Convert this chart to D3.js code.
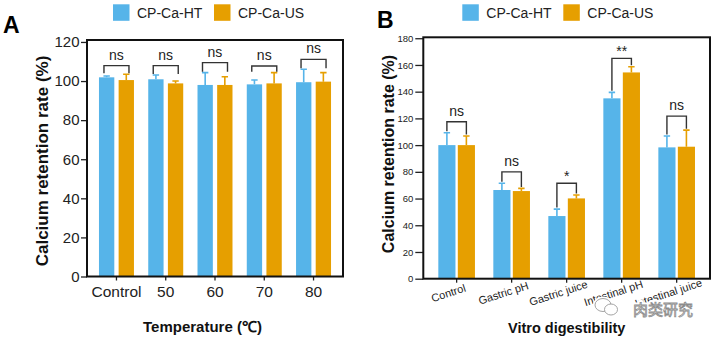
<!DOCTYPE html>
<html>
<head>
<meta charset="utf-8">
<script src="https://cdn.jsdelivr.net/npm/d3@7"></script>
<style>
  body { margin: 0; background: #fff; }
  svg { display: block; font-family: Arial, "Liberation Sans", sans-serif; }
</style>
</head>
<body>
<script>
var svgWidth = 717;
var svgHeight = 338;

var seriesNames = ["CP-Ca-HT", "CP-Ca-US"];
var seriesColors = ["#56B4E9", "#E69F00"];

// Temperature series (panel A)
var tempGroups = ["Control", "50", "60", "70", "80"];
var tempHT = [101.9, 100.9, 98.0, 98.3, 99.4];
var tempHTErr = [0.7, 2.2, 6.3, 2.2, 6.6];
var tempUS = [100.5, 98.8, 98.0, 98.8, 99.7];
var tempUSErr = [3.0, 1.2, 4.2, 5.5, 4.6];
var tempSig = ["ns", "ns", "ns", "ns", "ns"];
var tempBracket = [107.9, 107.9, 109.4, 107.7, 111.1];
var tempTicks = [0, 20, 40, 60, 80, 100, 120];

// In vitro digestion series (panel B)
var digestGroups = ["Control", "Gastric pH", "Gastric juice", "Intestinal pH", "Intestinal juice"];
var digestHT = [100.0, 66.4, 46.9, 135.0, 98.3];
var digestHTErr = [9.2, 5.0, 5.2, 4.5, 8.5];
var digestUS = [100.0, 65.6, 60.1, 154.4, 98.8];
var digestUSErr = [6.8, 2.0, 2.5, 4.2, 12.4];
var digestSig = ["ns", "ns", "*", "**", "ns"];
var digestBracket = [117.5, 80.0, 71.4, 164.9, 121.7];
var digestTicks = [0, 20, 40, 60, 80, 100, 120, 140, 160, 180];

var svg = d3.select("body")
  .append("svg")
  .attr("width", svgWidth)
  .attr("height", svgHeight);

function drawPanel(cfg) {
  var g = svg.append("g");

  var x = d3.scaleBand()
    .domain(cfg.groups)
    .range([cfg.left, cfg.right])
    .paddingInner(cfg.padInner)
    .paddingOuter(cfg.padOuter);

  var xSub = d3.scaleBand()
    .domain([0, 1])
    .range([0, x.bandwidth()])
    .paddingInner(cfg.barGap);

  var y = d3.scaleLinear()
    .domain([0, cfg.yMax])
    .range([cfg.bottom, cfg.top]);

  var rows = cfg.groups.map(function(name, i) {
    return {
      name: name,
      sig: cfg.sig[i],
      bracket: cfg.bracket[i],
      bars: [
        { s: 0, v: cfg.ht[i], e: cfg.htErr[i] },
        { s: 1, v: cfg.us[i], e: cfg.usErr[i] }
      ]
    };
  });

  // bars
  var groupG = g.selectAll("g.group")
    .data(rows)
    .enter()
    .append("g")
    .attr("class", "group")
    .attr("transform", d => `translate(${x(d.name)},0)`);

  groupG.selectAll("rect")
    .data(d => d.bars)
    .enter()
    .append("rect")
    .attr("x", d => xSub(d.s))
    .attr("y", d => y(d.v))
    .attr("width", xSub.bandwidth())
    .attr("height", d => y(0) - y(d.v))
    .attr("fill", d => seriesColors[d.s]);

  // upper error bars with caps
  groupG.selectAll("path.err")
    .data(d => d.bars)
    .enter()
    .append("path")
    .attr("class", "err")
    .attr("d", function(d) {
      var cx = xSub(d.s) + xSub.bandwidth() / 2;
      var yt = y(d.v + d.e);
      return `M${cx},${y(d.v)}V${yt}M${cx - 3.2},${yt}H${cx + 3.2}`;
    })
    .attr("fill", "none")
    .attr("stroke", d => seriesColors[d.s])
    .attr("stroke-width", 1.6);

  // significance brackets
  groupG.append("path")
    .attr("d", function(d) {
      var top = y(d.bracket);
      var xl, xr, yl, yr;
      if (cfg.sharedLegs) {
        var c = x.bandwidth() / 2;
        xl = c - cfg.bracketHalf;
        xr = c + cfg.bracketHalf;
        var m = d3.max(d.bars, b => b.v + b.e);
        yl = yr = y(m) - 1;
      } else {
        xl = xSub(0) + xSub.bandwidth() / 2;
        xr = xSub(1) + xSub.bandwidth() / 2;
        yl = y(d.bars[0].v + d.bars[0].e) - 1.5;
        yr = y(d.bars[1].v + d.bars[1].e) - 1.5;
      }
      return `M${xl},${yl}V${top}H${xr}V${yr}`;
    })
    .attr("fill", "none")
    .attr("stroke", "#333")
    .attr("stroke-width", 1.4);

  groupG.append("text")
    .attr("x", x.bandwidth() / 2)
    .attr("y", d => y(d.bracket) - (d.sig === "ns" ? 6 : 2.5))
    .attr("text-anchor", "middle")
    .attr("font-size", "14px")
    .attr("fill", "#222")
    .text(d => d.sig);

  // y axis
  var yAxis = g.append("g")
    .attr("transform", `translate(${cfg.left},0)`)
    .call(d3.axisLeft(y)
      .tickValues(cfg.ticks)
      .tickSize(cfg.tickLen)
      .tickSizeOuter(0)
      .tickPadding(cfg.tickPad));
  yAxis.select(".domain").remove();
  yAxis.selectAll("line").attr("stroke", "#222").attr("stroke-width", 1.3);
  yAxis.selectAll("text")
    .attr("fill", "#222")
    .style("font-size", cfg.tickFont)
    .style("font-family", "Arial, 'Liberation Sans', sans-serif");

  // x axis
  var xAxis = g.append("g")
    .attr("transform", `translate(0,${cfg.bottom})`)
    .call(d3.axisBottom(x)
      .tickSize(4)
      .tickSizeOuter(0)
      .tickPadding(5)
      .tickFormat(cfg.rotateLabels ? "" : null));
  xAxis.select(".domain").remove();
  xAxis.selectAll("line").attr("stroke", "#222").attr("stroke-width", 1.3);
  xAxis.selectAll("text")
    .attr("fill", "#222")
    .style("font-size", cfg.xTickFont)
    .style("font-family", "Arial, 'Liberation Sans', sans-serif");

  if (cfg.rotateLabels) {
    g.selectAll("text.xlab")
      .data(cfg.groups)
      .enter()
      .append("text")
      .attr("class", "xlab")
      .attr("transform", d => `translate(${x(d) + x.bandwidth() / 2 - 7},${cfg.bottom + 18}) rotate(-18)`)
      .attr("text-anchor", "middle")
      .attr("font-size", cfg.xTickFont)
      .attr("fill", "#222")
      .text(d => d);
  }

  // frame
  g.append("rect")
    .attr("x", cfg.left)
    .attr("y", cfg.top)
    .attr("width", cfg.right - cfg.left)
    .attr("height", cfg.bottom - cfg.top)
    .attr("fill", "none")
    .attr("stroke", "#111")
    .attr("stroke-width", 2);

  // axis titles
  g.append("text")
    .attr("transform", `translate(${cfg.yTitleX},${cfg.yTitleY}) rotate(-90)`)
    .attr("text-anchor", "middle")
    .attr("font-size", cfg.yTitleFont)
    .attr("font-weight", "bold")
    .attr("fill", "#111")
    .text("Calcium retention rate (%)");

  g.append("text")
    .attr("x", cfg.xTitleX)
    .attr("y", cfg.xTitleY)
    .attr("text-anchor", "middle")
    .attr("font-size", cfg.xTitleFont)
    .attr("font-weight", "bold")
    .attr("fill", "#111")
    .text(cfg.xTitle);

  // panel letter
  g.append("text")
    .attr("x", cfg.letterX)
    .attr("y", cfg.letterY)
    .attr("font-size", "23px")
    .attr("font-weight", "bold")
    .attr("fill", "#000")
    .text(cfg.letter);

  // legend
  var legend = g.selectAll("g.legend")
    .data(seriesNames)
    .enter()
    .append("g")
    .attr("class", "legend")
    .attr("transform", (d, i) => `translate(${cfg.legendX + i * 101},4.3)`);

  legend.append("rect")
    .attr("width", 16.5)
    .attr("height", 16.5)
    .attr("fill", (d, i) => seriesColors[i]);

  legend.append("text")
    .attr("x", 24)
    .attr("y", 14)
    .attr("font-size", "14px")
    .attr("fill", "#222")
    .text(d => d);
}

drawPanel({
  letter: "A", letterX: 3, letterY: 33,
  groups: tempGroups, ht: tempHT, htErr: tempHTErr, us: tempUS, usErr: tempUSErr,
  sig: tempSig, bracket: tempBracket, ticks: tempTicks, yMax: 121,
  left: 87, right: 343, top: 40, bottom: 276.5,
  padInner: 0.29, padOuter: 0.243, barGap: 0.22,
  sharedLegs: true, bracketHalf: 12.5,
  tickLen: 6, tickPad: 1.5, tickFont: "15px", xTickFont: "15.5px",
  rotateLabels: false,
  yTitleX: 47.5, yTitleY: 161, yTitleFont: "17px",
  xTitle: "Temperature (℃)", xTitleX: 202.5, xTitleY: 331.5, xTitleFont: "15px",
  legendX: 113
});

drawPanel({
  letter: "B", letterX: 377, letterY: 28,
  groups: digestGroups, ht: digestHT, htErr: digestHTErr, us: digestUS, usErr: digestUSErr,
  sig: digestSig, bracket: digestBracket, ticks: digestTicks, yMax: 180.7,
  left: 423.3, right: 710, top: 37.3, bottom: 278.7,
  padInner: 0.334, padOuter: 0.273, barGap: 0.12,
  sharedLegs: false,
  tickLen: 8, tickPad: 2, tickFont: "9.5px", xTickFont: "11px",
  rotateLabels: true,
  yTitleX: 394, yTitleY: 154, yTitleFont: "16px",
  xTitle: "Vitro digestibility", xTitleX: 566.7, xTitleY: 333, xTitleFont: "14.5px",
  legendX: 462.3
});

// source mark in the lower right corner
var mark = svg.append("g");
mark.append("ellipse")
  .attr("cx", 603).attr("cy", 305).attr("rx", 8).attr("ry", 6.5)
  .attr("fill", "#fff").attr("stroke", "#fff").attr("stroke-width", 4);
mark.append("ellipse")
  .attr("cx", 603).attr("cy", 305).attr("rx", 8).attr("ry", 6.5)
  .attr("fill", "#fff").attr("stroke", "#999").attr("stroke-width", 0.9);
mark.append("ellipse")
  .attr("cx", 611).attr("cy", 309.5).attr("rx", 6.5).attr("ry", 5.5)
  .attr("fill", "#fff").attr("stroke", "#999").attr("stroke-width", 0.9);
mark.append("text")
  .attr("x", 633).attr("y", 314.5)
  .attr("font-family", "'Noto Sans CJK SC', sans-serif")
  .attr("font-size", "15px")
  .attr("fill", "#fff")
  .attr("stroke", "#fff")
  .attr("stroke-width", 5)
  .attr("stroke-linejoin", "round")
  .text("肉类研究");
mark.append("text")
  .attr("x", 633).attr("y", 314.5)
  .attr("font-family", "'Noto Sans CJK SC', sans-serif")
  .attr("font-size", "15px")
  .attr("fill", "#fff")
  .attr("stroke", "#8c8c8c")
  .attr("stroke-width", 0.8)
  .text("肉类研究");
</script>
</body>
</html>
